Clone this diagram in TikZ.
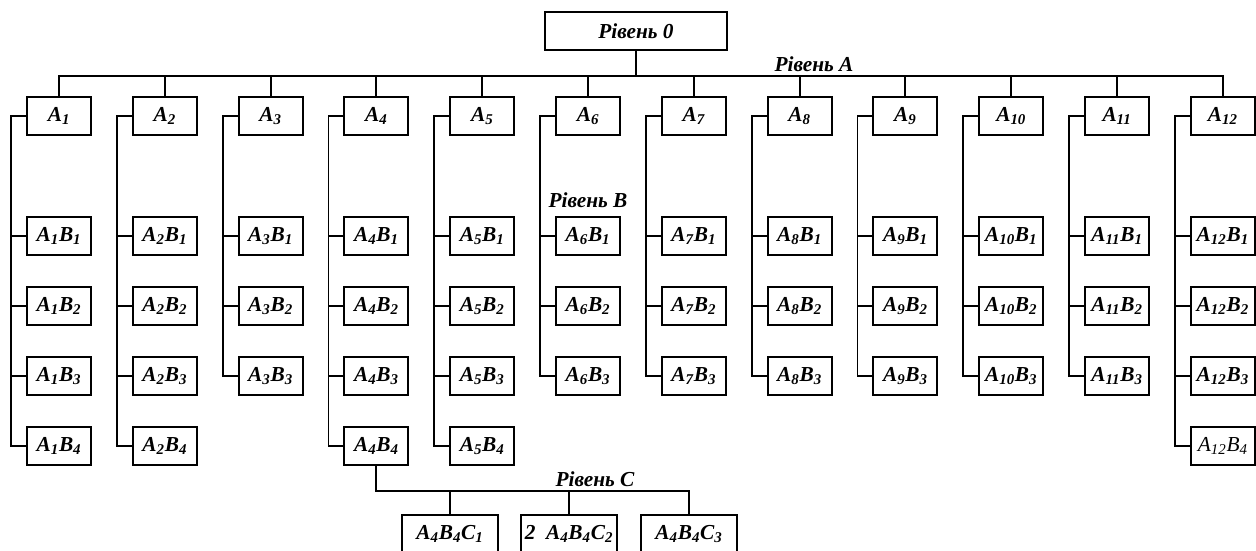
\documentclass[tikz,border=0pt]{standalone}
\usepackage{fontspec}
\setmainfont{Liberation Serif}
\usepackage{tikz}
\usetikzlibrary{positioning}

\begin{document}
\begin{tikzpicture}[x=0.75pt, y=-0.75pt, line width=1.4pt,
    font=\fontsize{16}{19}\selectfont\bfseries\itshape,
    box/.style={draw, inner sep=0pt, minimum width=48pt, minimum height=28.5pt},
    cbox/.style={box, minimum width=72pt}]
  \useasboundingbox (0,0) rectangle (1256,550);

  \node [box, minimum width=137pt, minimum height=29pt] (lvl0) at (636,31) {Рівень 0};
  \node (lvlA) at (814,64) {Рівень A};
  \node (lvlB) at (588,200) {Рівень B};
  \node (lvlC) at (595,479) {Рівень C};

  % columns A_i with their B boxes
  \foreach \i/\n in {1/4,2/4,3/3,4/4,5/4,6/3,7/3,8/3,9/3,10/3,11/3,12/4} {
    \node [box] (a\i) at ({59+(\i-1)*105.8},116) {A\textsubscript{\i}};
    \draw (a\i.north) -- ++(0,-20) -| (lvl0.south);
    \foreach \j in {1,...,\n} {
      \node [box] (a\i b\j) at ({59+(\i-1)*105.8},{166+70*\j})
        {\ifnum\i\j=124 \mdseries\fi A\textsubscript{\i}B\textsubscript{\j}};
      \draw (a\i.west) -- ++(-15,0) |- (a\i b\j.west);
    }
  }

  % level C under A4B4
  \foreach \k/\cx/\pre in {1/450/, 2/569/2\ \ , 3/689/} {
    \node [cbox] (c\k) at (\cx,534) {\pre A\textsubscript{4}B\textsubscript{4}C\textsubscript{\k}};
    \draw (c\k.north) -- ++(0,-23) -| (a4b4.south);
  }
\end{tikzpicture}
\end{document}
